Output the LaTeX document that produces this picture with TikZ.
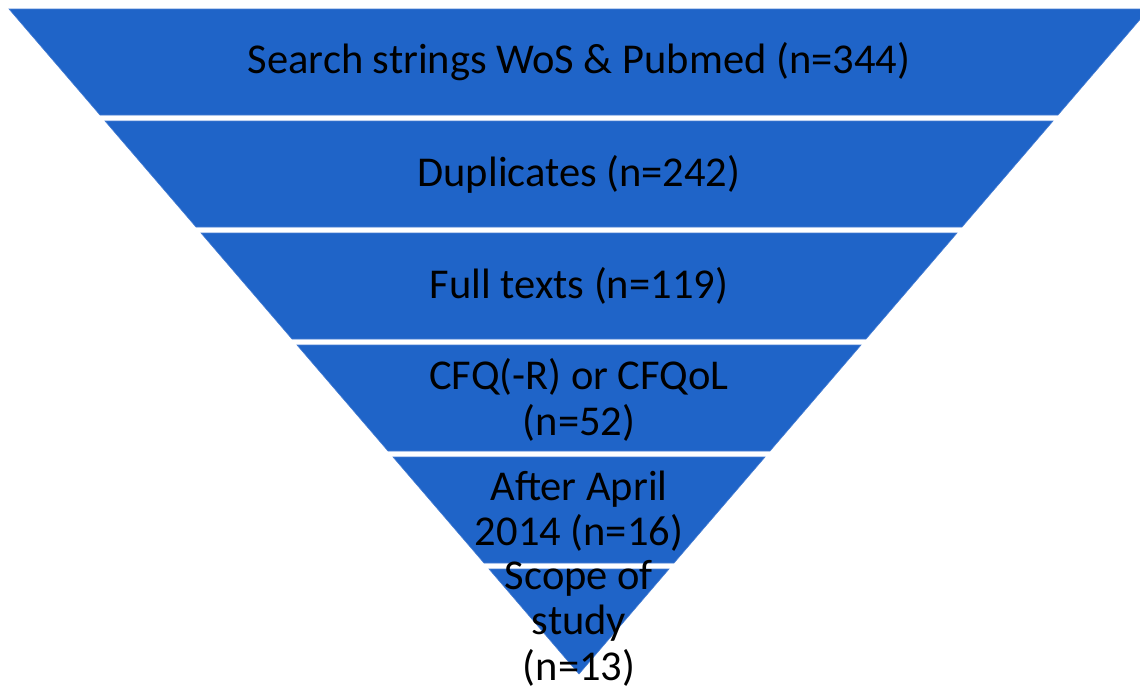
\documentclass[tikz,border=0pt]{standalone}
\usepackage{fontspec}
\setmainfont{Carlito}
\definecolor{funnelblue}{RGB}{31,100,200}
\definecolor{edgeblue}{RGB}{70,125,210}
\begin{document}
\begin{tikzpicture}[x=1pt,y=-1pt,
  band/.style={fill=funnelblue,draw=edgeblue,line width=0.6pt},
  lbl/.style={align=center,font=\fontsize{42.5}{45.5}\selectfont,text=black,inner sep=0pt}]
\useasboundingbox (0,0) rectangle (1140,688);
\clip (0,0) rectangle (1140,688);
% funnel bands: left edge x = 9 + 0.858*(y-9), centre x = 579
\draw[band] (9,9) -- (1149,9) -- (1058,115) -- (100,115) -- cycle;
\draw[band] (105,121) -- (1053,121) -- (962,227) -- (196,227) -- cycle;
\draw[band] (201,233) -- (957,233) -- (866,339) -- (292,339) -- cycle;
\draw[band] (297,345) -- (861,345) -- (770,451) -- (388,451) -- cycle;
\draw[band] (393,457) -- (765,457) -- (674,563) -- (484,563) -- cycle;
\draw[band] (489,569) -- (669,569) -- (579,674) -- cycle;
% labels
\node[lbl] (t1) at (579,62) {Search strings WoS \& Pubmed (n=344)};
\node[lbl] (t2) at (579,174) {Duplicates (n=242)};
\node[lbl] (t3) at (579,286) {Full texts (n=119)};
\node[lbl] (t4) at (579,400) {CFQ(-R) or CFQoL\\(n=52)};
\node[lbl] (t5) at (579,511) {After April\\2014 (n=16)};
\node[lbl] (t6) at (579,623) {Scope of\\study\\(n=13)};
\end{tikzpicture}
\end{document}
